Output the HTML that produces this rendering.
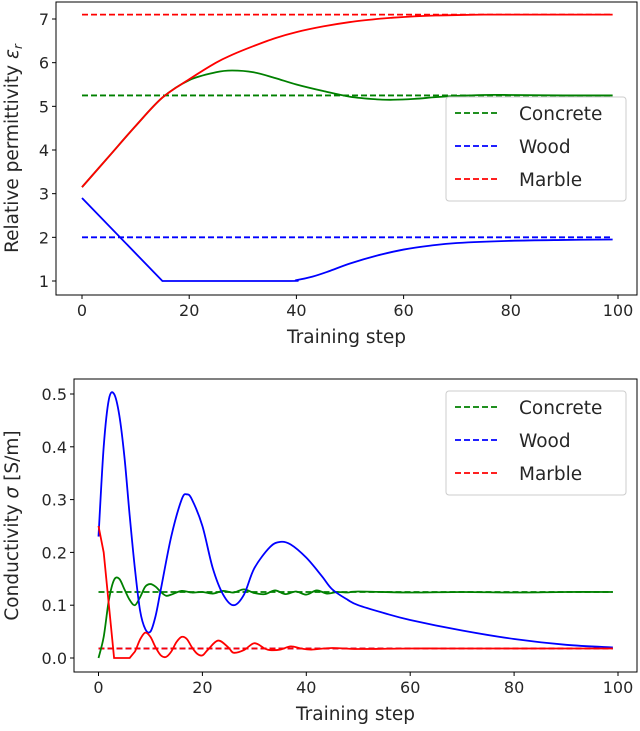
<!DOCTYPE html>
<html><head><meta charset="utf-8"><style>
body{margin:0;background:#fff;}
svg{display:block;font-family:"DejaVu Sans","Liberation Sans",sans-serif;}
</style></head><body>
<svg id="chart" width="640" height="731"></svg>
<script>
// ---- Top chart data (relative permittivity) ----
const topSteps = [0,5,10,15,20,25,28,32,36,40,45,50,55,58,62,66,70,75,80,90,99];
const topConcrete = [3.15,3.85,4.55,5.2,5.6,5.78,5.82,5.78,5.65,5.5,5.35,5.22,5.16,5.15,5.17,5.21,5.24,5.26,5.26,5.25,5.25];
const topMarble = [3.15,3.85,4.55,5.2,5.62,6.0,6.18,6.38,6.56,6.7,6.83,6.93,7.0,7.03,7.06,7.08,7.09,7.1,7.1,7.1,7.1];
const topWoodSteps = [0,15,38,40,43,46,50,55,60,65,70,80,90,99];
const topWood = [2.9,1.0,1.0,1.02,1.1,1.22,1.4,1.58,1.72,1.81,1.87,1.92,1.94,1.95];
const topTargets = [5.25,2.0,7.1];
const topYTicks = [1,2,3,4,5,6,7];
const xTicks = [0,20,40,60,80,100];
// ---- Bottom chart data (conductivity) ----
const botWoodSteps = [0,1,2,3,4,5,6,7,8,9,10,11,12,14,16,17,18,20,22,24,26,28,30,33,35,37,40,43,45,48,50,55,60,70,80,90,99];
const botWood = [0.23,0.40,0.49,0.50,0.46,0.38,0.27,0.17,0.09,0.055,0.05,0.08,0.13,0.23,0.30,0.31,0.30,0.25,0.17,0.12,0.10,0.12,0.17,0.21,0.22,0.215,0.19,0.155,0.13,0.11,0.10,0.085,0.072,0.052,0.036,0.025,0.02];
const botConcreteSteps = [0,1,2,3,4,5,6,7,8,9,10,11,12,13,14,16,18,20,22,24,26,28,30,32,34,36,38,40,42,44,46,48,50,60,70,80,90,99];
const botConcrete = [0.0,0.04,0.11,0.148,0.15,0.13,0.11,0.10,0.115,0.135,0.14,0.135,0.125,0.118,0.12,0.127,0.124,0.125,0.122,0.127,0.124,0.13,0.123,0.121,0.128,0.121,0.126,0.12,0.128,0.122,0.125,0.124,0.126,0.124,0.125,0.124,0.125,0.125];
const botMarbleSteps = [0,1,2,3,6,7,8,9,10,11,12,13,14,15,16,17,18,19,20,21,23,25,26,28,30,32,33,35,37,39,41,45,50,60,70,80,90,99];
const botMarble = [0.25,0.2,0.1,0.0,0.0,0.012,0.035,0.048,0.04,0.02,0.005,0.002,0.012,0.03,0.04,0.036,0.02,0.008,0.005,0.015,0.033,0.02,0.01,0.015,0.028,0.018,0.015,0.016,0.022,0.018,0.016,0.019,0.017,0.018,0.018,0.018,0.018,0.018];
const botTargets = [0.125,0.018,0.018];
const botYTicks = [0.0,0.1,0.2,0.3,0.4,0.5];

const NS="http://www.w3.org/2000/svg";
const svg=document.getElementById('chart');
function mk(tag,attrs,parent){const e=document.createElementNS(NS,tag);for(const k in attrs)e.setAttribute(k,attrs[k]);(parent||svg).appendChild(e);return e;}
function smooth(pts,lin){let d='M'+pts[0][0]+','+pts[0][1];for(let i=0;i<pts.length-1;i++){const p1=pts[i],p2=pts[i+1];if(lin&&lin(i)){d+=` L${p2[0]},${p2[1]}`;continue;}const p0=pts[i-1]||pts[i],p3=pts[i+2]||p2;const c1=[p1[0]+(p2[0]-p0[0])/6,p1[1]+(p2[1]-p0[1])/6],c2=[p2[0]-(p3[0]-p1[0])/6,p2[1]-(p3[1]-p1[1])/6];d+=` C${c1[0]},${c1[1]} ${c2[0]},${c2[1]} ${p2[0]},${p2[1]}`;}return d;}

function drawPanel(cfg){
  const g=mk('g',{});
  
  
  const xs=v=>cfg.x0+(v/100)*(cfg.x100-cfg.x0);
  const ys=v=>cfg.yA+(v-cfg.vA)/(cfg.vB-cfg.vA)*(cfg.yB-cfg.yA);
  const colors=['#008000','#0000ff','#ff0000'];
  const names=['Concrete','Wood','Marble'];
  cfg.targets.forEach((t,i)=>{const l=mk('line',{x1:xs(0),x2:xs(99),y1:ys(t),y2:ys(t),stroke:colors[i],'stroke-width':1.8,'stroke-dasharray':'6,3'},g);
    
    });
  cfg.series.forEach(s=>{const p=mk('path',{d:smooth(s.steps.map((st,j)=>[xs(st),ys(s.vals[j])]),s.lin),fill:'none',stroke:colors[s.c],'stroke-width':1.8},g);
    
    });
  const b=mk('rect',{x:cfg.L,y:cfg.T,width:cfg.R-cfg.L,height:cfg.B-cfg.T,fill:'none',stroke:'#000','stroke-width':1},g);
  
  xTicks.forEach(t=>{mk('line',{x1:xs(t),x2:xs(t),y1:cfg.B,y2:cfg.B+4,stroke:'#000'},g);
    const tx=mk('text',{x:xs(t),y:cfg.B+21,'text-anchor':'middle','font-size':16,fill:'#262626'},g);tx.textContent=t;
    });
  cfg.yticks.forEach(t=>{mk('line',{x1:cfg.L-4,x2:cfg.L,y1:ys(t),y2:ys(t),stroke:'#000'},g);
    const tx=mk('text',{x:cfg.L-7,y:ys(t)+6,'text-anchor':'end','font-size':16,fill:'#262626'},g);tx.textContent=cfg.fmt(t);
    });
  const xl=mk('text',{x:(cfg.L+cfg.R)/2,y:cfg.B+48,'text-anchor':'middle','font-size':18.5,fill:'#262626'},g);xl.textContent='Training step';
  
  const yl=mk('text',{x:0,y:0,'text-anchor':'middle','font-size':18.5,fill:'#262626',transform:`translate(${cfg.ylx},${(cfg.T+cfg.B)/2}) rotate(-90)`},g);yl.innerHTML=cfg.ylabel;
  
  const lg=mk('g',{},g);
  mk('rect',{x:cfg.lx,y:cfg.ly,width:180,height:104,rx:3,fill:'#fff','fill-opacity':0.85,stroke:'#ccc'},lg);
  names.forEach((n,i)=>{const yy=cfg.ly+16+i*33;
    const e=mk('g',{},lg);
    mk('line',{x1:cfg.lx+9,x2:cfg.lx+54,y1:yy,y2:yy,stroke:colors[i],'stroke-width':1.8,'stroke-dasharray':'6,3'},e);
    const t=mk('text',{x:cfg.lx+73,y:yy+7,'font-size':18.5,fill:'#262626'},e);t.textContent=n;});
}
drawPanel({name:'permittivity-chart',L:56,R:637,T:2,B:295,x0:82,x100:618,yA:281,vA:1,yB:19,vB:7,
  targets:topTargets,yticks:topYTicks,fmt:v=>v,ylx:18,ylabel:'Relative permittivity <tspan font-style="italic">ε</tspan><tspan font-size="12" dy="4" font-style="italic">r</tspan>',
  lx:446,ly:97,
  series:[{steps:topSteps,vals:topConcrete,c:0},{steps:topWoodSteps,vals:topWood,c:1,lin:i=>i<2},{steps:topSteps,vals:topMarble,c:2}]});
drawPanel({name:'conductivity-chart',L:74,R:637,T:379,B:672,x0:98.5,x100:618,yA:658,vA:0,yB:394,vB:0.5,
  targets:botTargets,yticks:botYTicks,fmt:v=>v.toFixed(1),ylx:18,ylabel:'Conductivity <tspan font-style="italic">σ</tspan> [S/m]',
  lx:446,ly:391,
  series:[{steps:botConcreteSteps,vals:botConcrete,c:0},{steps:botWoodSteps,vals:botWood,c:1},{steps:botMarbleSteps,vals:botMarble,c:2,lin:i=>i<5}]});
</script>
</body></html>
